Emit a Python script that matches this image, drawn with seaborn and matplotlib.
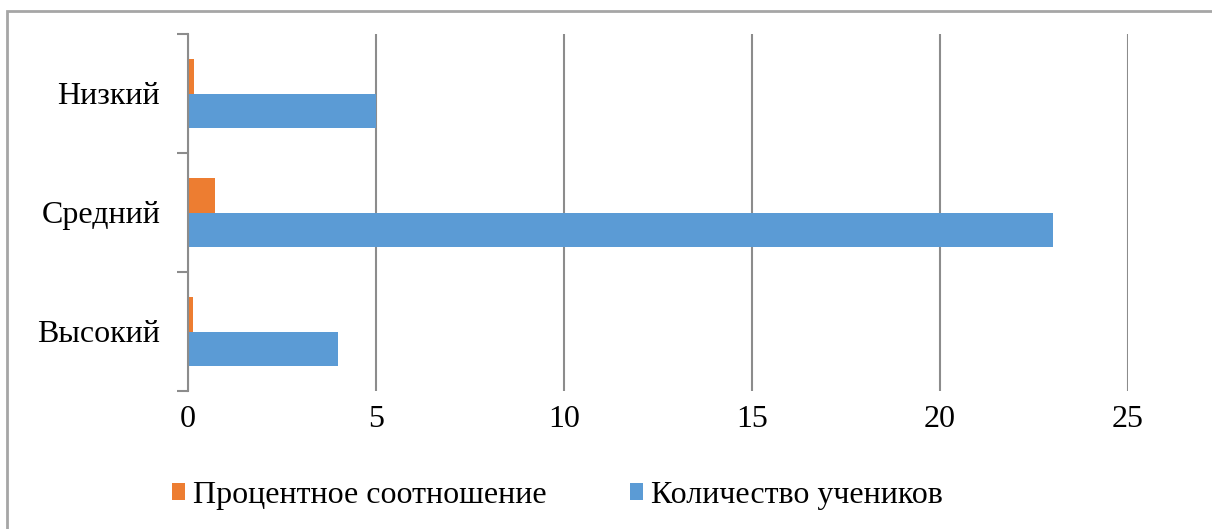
import matplotlib
matplotlib.use("Agg")
import matplotlib.pyplot as plt
import seaborn as sns
import pandas as pd
from matplotlib.patches import Rectangle

categories = ["Низкий", "Средний", "Высокий"]
series_names = ["Процентное соотношение", "Количество учеников"]
percent_values = [0.16, 0.72, 0.13]
count_values = [5, 23, 4]
x_ticks = [0, 5, 10, 15, 20, 25]

colors = ["#ED7D31", "#5B9BD5"]
grid_color = "#8C8C8C"

rows = []
for c, p, n in zip(categories, percent_values, count_values):
    rows.append({"cat": c, "series": series_names[0], "value": p})
    rows.append({"cat": c, "series": series_names[1], "value": n})
df = pd.DataFrame(rows)

sns.set_theme(style="white")
plt.rcParams["font.family"] = ["Liberation Serif", "DejaVu Serif"]
plt.rcParams["text.color"] = "black"

fig = plt.figure(figsize=(12.12, 5.29), dpi=100)
ax = fig.add_axes([188/1212, 1-391/529, (1128-188)/1212, (391-34)/529])

sns.barplot(data=df, y="cat", x="value", hue="series", order=categories,
            hue_order=series_names, palette=colors, orient="h",
            width=0.572, gap=0, linewidth=0, saturation=1, ax=ax, legend=True)

ax.set_xlim(0, 25)
ax.set_ylim(2.5, -0.5)
ax.set_xticks(x_ticks)
ax.set_xticklabels([str(t) for t in x_ticks])
ax.set_xlabel("")
ax.set_ylabel("")
ax.xaxis.grid(True, color=grid_color, linewidth=1.5)
ax.set_axisbelow(True)

ax.set_yticks([0, 1, 2])
ax.set_yticklabels(categories)
ax.set_yticks([-0.5, 0.5, 1.5, 2.5], minor=True)
ax.tick_params(axis="y", which="major", length=0, pad=20, labelsize=23, labelcolor="black")
ax.tick_params(axis="y", which="minor", length=8, width=1.5, color=grid_color, left=True)
ax.tick_params(axis="x", which="major", length=0, pad=10, labelsize=23, labelcolor="black")

for s in ["top", "right", "bottom"]:
    ax.spines[s].set_visible(False)
ax.spines["left"].set_color(grid_color)
ax.spines["left"].set_linewidth(1.5)

handles, labels = ax.get_legend_handles_labels()
ax.get_legend().remove()
leg = fig.legend(handles, labels, loc="center", bbox_to_anchor=(0.46, 0.064), ncol=2,
                 frameon=False, fontsize=23, handlelength=0.42, handleheight=0.42,
                 handletextpad=0.25, columnspacing=2.6)
for t in leg.get_texts():
    t.set_color("black")

fig.patches.append(Rectangle((6.5/1212, -0.1), 1.2, 1.1 - 11/529,
                             transform=fig.transFigure, fill=False,
                             edgecolor="#A6A6A6", linewidth=2))

fig.savefig("out.png", dpi=100)
